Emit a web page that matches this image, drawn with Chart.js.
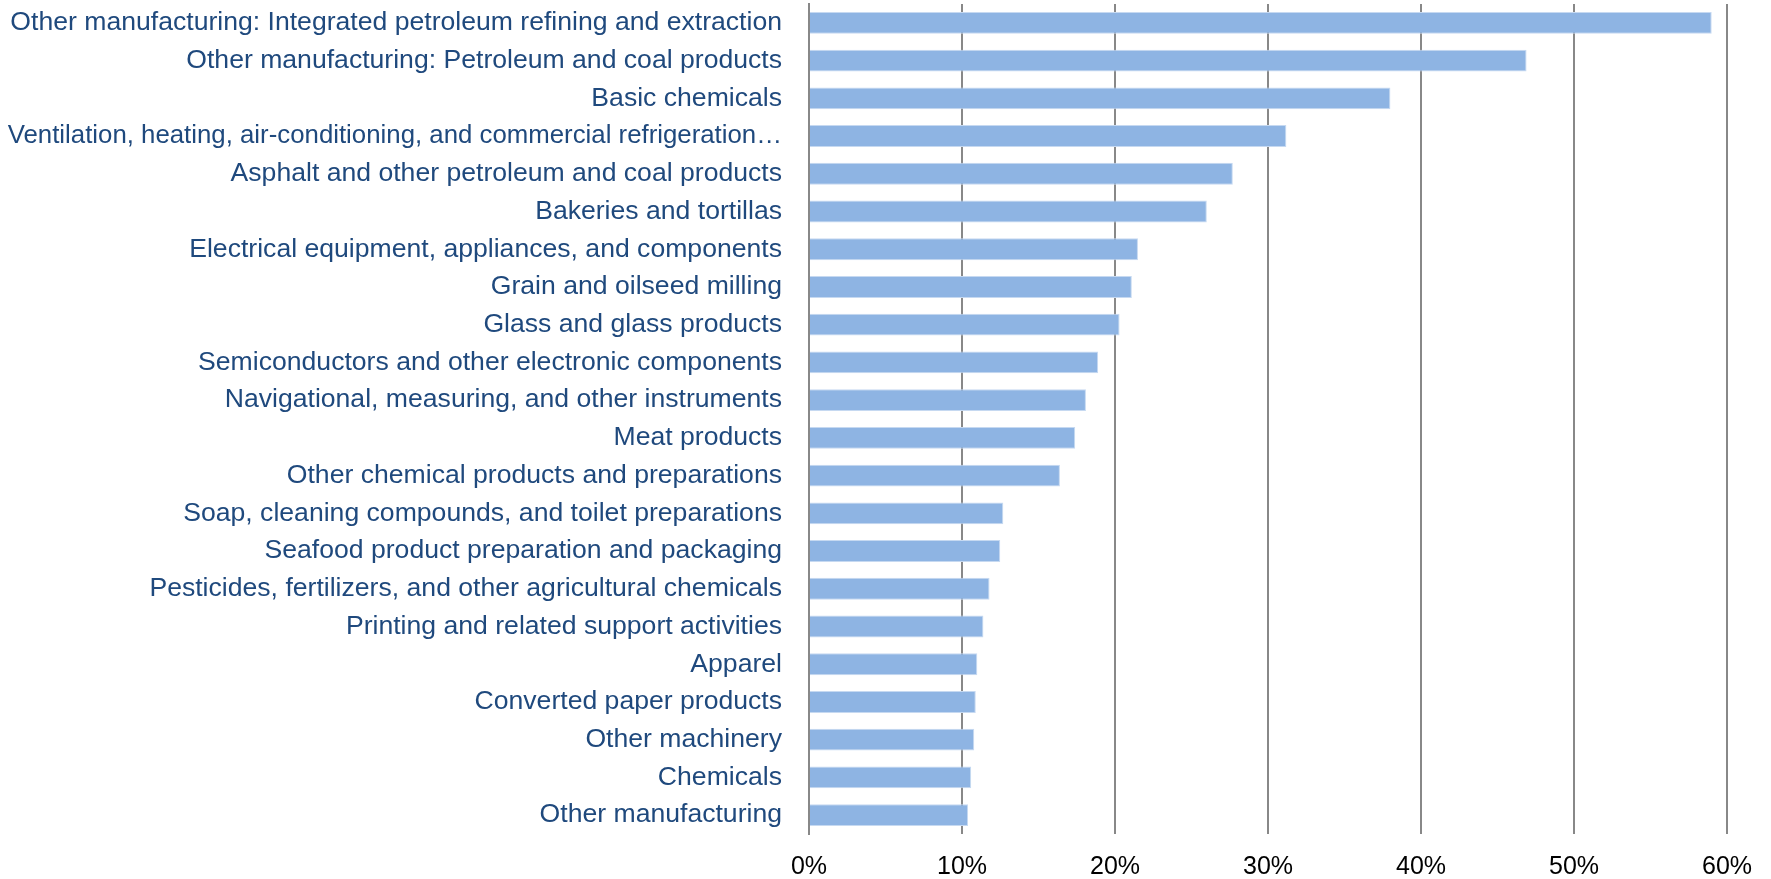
<!DOCTYPE html>
<html>
<head>
<meta charset="utf-8">
<script src="https://cdn.jsdelivr.net/npm/chart.js@4"></script>
<style>
  html, body { margin: 0; padding: 0; background: #ffffff; }
  #wrap { width: 1771px; height: 879px; position: relative; }
</style>
</head>
<body>
<div id="wrap"><canvas id="c"></canvas></div>
<script>
const categories = [
  "Other manufacturing: Integrated petroleum refining and extraction",
  "Other manufacturing: Petroleum and coal products",
  "Basic chemicals",
  "Ventilation, heating, air-conditioning, and commercial refrigeration\u2026",
  "Asphalt and other petroleum and coal products",
  "Bakeries and tortillas",
  "Electrical equipment, appliances, and components",
  "Grain and oilseed milling",
  "Glass and glass products",
  "Semiconductors and other electronic components",
  "Navigational, measuring, and other instruments",
  "Meat products",
  "Other chemical products and preparations",
  "Soap, cleaning compounds, and toilet preparations",
  "Seafood product preparation and packaging",
  "Pesticides, fertilizers, and other agricultural chemicals",
  "Printing and related support activities",
  "Apparel",
  "Converted paper products",
  "Other machinery",
  "Chemicals",
  "Other manufacturing"
];
const values = [59.0, 46.9, 38.0, 31.2, 27.7, 26.0, 21.5, 21.1, 20.3, 18.9, 18.1, 17.4, 16.4, 12.7, 12.5, 11.8, 11.4, 11.0, 10.9, 10.8, 10.6, 10.4];
const xTickValues = [0, 10, 20, 30, 40, 50, 60];

const FONT = "'Liberation Sans', Arial, sans-serif";

new Chart(document.getElementById('c'), {
  type: 'bar',
  data: {
    labels: categories,
    datasets: [{
      data: values,
      backgroundColor: '#8EB4E3',
      borderColor: '#C6D9F1',
      borderWidth: 1,
      barPercentage: 0.58,
      categoryPercentage: 1.0
    }]
  },
  options: {
    indexAxis: 'y',
    responsive: true,
    maintainAspectRatio: false,
    animation: false,
    layout: { padding: { top: 4, right: 44, left: 0, bottom: 0 } },
    plugins: { legend: { display: false }, tooltip: { enabled: false } },
    scales: {
      x: {
        min: 0, max: 60,
        afterBuildTicks: (s) => { s.ticks = xTickValues.map(v => ({ value: v })); },
        afterFit: (s) => { s.height = 45; },
        ticks: {
          callback: (v) => v + '%',
          color: '#000000',
          font: { family: FONT, size: 25 },
          padding: 18,
          maxRotation: 0
        },
        grid: { color: '#888888', lineWidth: 2, drawTicks: false },
        border: { display: false }
      },
      y: {
        afterFit: (s) => { s.width = 809; s.paddingTop = 0; s.paddingBottom = 0; },
        ticks: {
          color: '#1F497D',
          font: (ctx) => ({ family: FONT, size: (ctx.index === 3 ? 25.8 : 26.6) }),
          padding: 27,
          autoSkip: false
        },
        grid: { display: false, drawTicks: false },
        border: { display: true, color: '#888888', width: 2 }
      }
    }
  }
});
</script>
</body>
</html>
